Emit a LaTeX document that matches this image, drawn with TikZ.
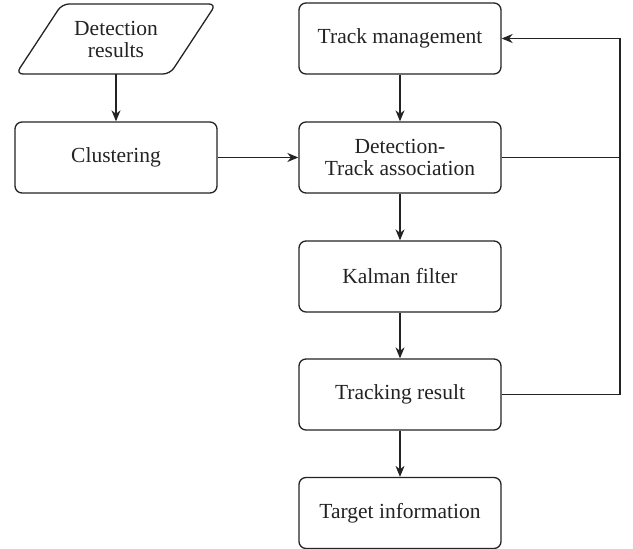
\documentclass[tikz,border=0pt]{standalone}
\usepackage{fontspec}
\setmainfont{Liberation Serif}
\usetikzlibrary{arrows.meta}
\definecolor{ink}{RGB}{35,35,35}
\tikzset{
  box/.style={draw=ink, line width=1.3pt, rounded corners=7pt, minimum width=202pt, minimum height=71pt,
    align=center, inner sep=0pt, text=ink, font=\fontsize{21.5}{22}\selectfont},
  conn/.style={draw=ink, line width=1.3pt, -{Stealth[length=11pt,width=9pt,inset=3.5pt]}},
  plain/.style={draw=ink, line width=1.3pt},
}
\begin{document}
\begin{tikzpicture}[x=1pt,y=-1pt]
\useasboundingbox (0,0) rectangle (633,549);
% parallelogram
\draw[draw=ink, line width=1.3pt, rounded corners=7pt] (62,4) -- (216,4) -- (170,74) -- (16,74) -- cycle;
\node[text=ink, align=center, font=\fontsize{21.5}{22}\selectfont, inner sep=0pt] (det) at (116,39) {Detection\\results};
\coordinate (detb) at (116,74);
\node[box] (clu) at (116,157.5) {Clustering};
\node[box] (tm) at (400,38.5) {Track management};
\node[box] (dta) at (400,157.5) {Detection-\\Track association};
\node[box] (kf) at (400,276.5) {Kalman filter};
\node[box] (tr) at (400,394.5) {Tracking result};
\node[box] (ti) at (400,513) {Target information};
\coordinate (fbtop) at (620,38.5);
\coordinate (fbmid) at (620,157.5);
\coordinate (fbbot) at (620,394.5);
\draw[conn] (detb) -- (clu.north);
\draw[conn] (clu.east) -- (dta.west);
\draw[conn] (tm.south) -- (dta.north);
\draw[conn] (dta.south) -- (kf.north);
\draw[conn] (kf.south) -- (tr.north);
\draw[conn] (tr.south) -- (ti.north);
\draw[plain] (dta.east) -- (fbmid);
\draw[conn] (tr.east) -- (fbbot) -- (fbtop) -- (tm.east);
\end{tikzpicture}
\end{document}
